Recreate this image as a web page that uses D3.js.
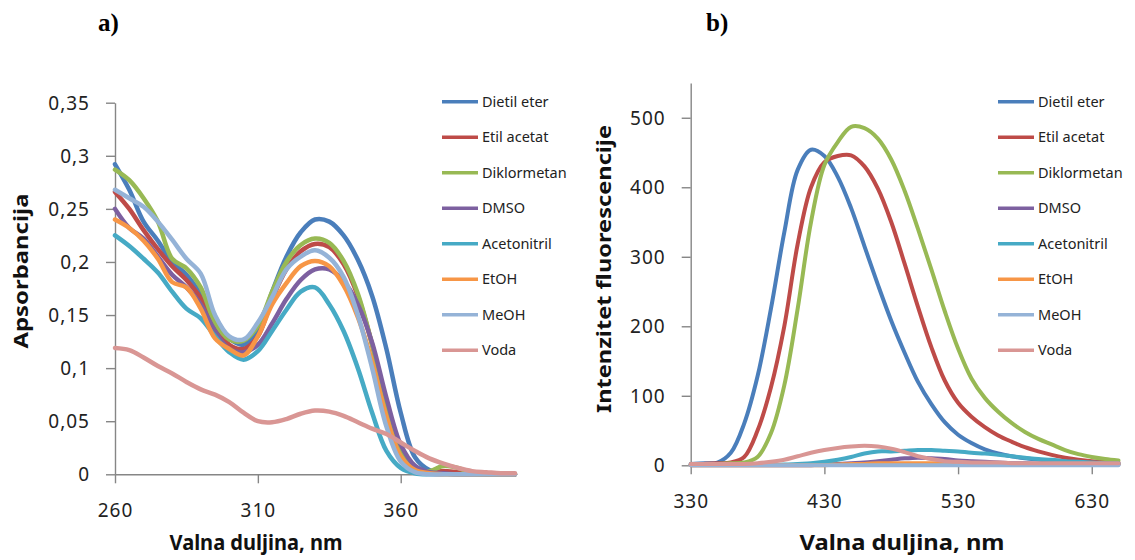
<!DOCTYPE html>
<html><head><meta charset="utf-8">
<script src="https://cdn.jsdelivr.net/npm/d3@7"></script>
<style>
html,body{margin:0;padding:0;background:#fff;}
svg{display:block;}
text{font-family:"Noto Sans",sans-serif;}
</style></head>
<body>
<svg id="c" width="1135" height="560"></svg>
<script>
// ---------- Chart a) absorbance ----------
const wlA = [260,265,270,275,280,285,290,295,300,305,310,315,320,325,330,335,340,345,350,355,360,365,370,375,380,385,390,395,400];
const absDietil = [.292,.268,.238,.220,.200,.188,.170,.148,.128,.122,.135,.172,.205,.228,.240,.238,.225,.202,.168,.118,.058,.016,.004,.001,0,0,0,0,0];
const absEtil = [.266,.250,.230,.212,.196,.183,.166,.140,.122,.118,.130,.165,.193,.210,.217,.214,.198,.168,.122,.064,.022,.006,.002,.003,.002,.001,0,0,0];
const absDiklor = [.287,.277,.260,.238,.203,.194,.176,.143,.127,.126,.140,.172,.200,.216,.222,.218,.201,.170,.122,.062,.020,.005,.003,.008,.006,.001,0,0,0];
const absDMSO = [.250,.232,.222,.205,.188,.176,.160,.135,.118,.115,.122,.142,.165,.183,.193,.193,.182,.160,.124,.072,.028,.008,.002,.001,0,0,0,0,0];
const absAceto = [.225,.215,.203,.190,.172,.156,.147,.130,.115,.108,.116,.135,.155,.172,.176,.160,.135,.100,.058,.022,.006,.001,0,0,0,0,0,0,0];
const absEtOH = [.240,.232,.220,.203,.181,.176,.156,.128,.118,.112,.130,.160,.180,.196,.201,.196,.178,.148,.106,.054,.017,.004,.001,0,0,0,0,0,0];
const absMeOH = [.268,.260,.252,.238,.221,.203,.189,.150,.130,.127,.143,.167,.193,.205,.211,.204,.186,.150,.100,.045,.012,.002,0,0,0,0,0,0,0];
const absVoda = [.119,.117,.110,.102,.095,.087,.080,.075,.068,.058,.050,.049,.052,.057,.060,.059,.055,.049,.043,.038,.030,.022,.015,.010,.006,.003,.002,.001,.001];
const yTicksA = [0,0.05,0.1,0.15,0.2,0.25,0.3,0.35];
const yTickLabelsA = ["0","0,05","0,1","0,15","0,2","0,25","0,3","0,35"];
const xTicksA = [260,310,360];

// ---------- Chart b) fluorescence ----------
const wlB = [330,340,350,360,370,380,390,400,410,420,430,440,450,460,470,480,490,500,510,520,530,540,550,560,570,580,590,600,610,620,630,640,650];
const flDietil = [2,3,4,18,60,128,225,335,425,454,445,415,370,315,260,208,162,120,88,62,44,32,23,17,13,10,8,7,6,5,4,3,2];
const flEtil = [1,2,3,4,12,50,112,200,318,400,436,445,446,430,398,350,290,228,170,122,90,70,55,43,34,26,20,15,11,8,6,5,4];
const flDiklor = [1,1,2,3,4,12,46,115,225,350,432,465,487,485,470,440,395,340,282,222,168,125,97,77,61,48,38,30,22,16,12,9,7];
const flDMSO = [0,0,0,0,0,0,0,0,0,0,1,2,3,4,6,8,10,11,10,9,7,6,5,4,3,3,2,2,1,1,1,1,1];
const flAceto = [1,1,1,1,1,1,1,1,2,3,5,8,12,17,20,20,21,22,22,21,20,18,17,15,13,11,9,8,6,5,4,3,3];
const flEtOH = [0,0,0,0,0,0,0,0,0,0,0,1,2,2,3,3,3,3,3,3,2,2,2,1,1,1,1,1,1,1,1,1,1];
const flMeOH = [0,0,0,0,0,0,0,0,0,0,0,0,0,0,0,0,0,0,0,0,0,0,0,0,0,0,0,0,0,0,0,0,0];
const flVoda = [2,2,2,2,2,3,5,8,13,18,22,25,27,28,27,24,19,13,9,6,5,4,4,4,3,3,3,3,3,3,3,3,3];
const yTicksB = [0,100,200,300,400,500];
const xTicksB = [330,430,530,630];

const seriesNames = ["Dietil eter","Etil acetat","Diklormetan","DMSO","Acetonitril","EtOH","MeOH","Voda"];
const colors = ["#4A7EBB","#BE4B48","#98B954","#7D60A0","#46AAC5","#F79646","#95B3D7","#D99694"];

const absSeries = [absDietil,absEtil,absDiklor,absDMSO,absAceto,absEtOH,absMeOH,absVoda];
const flSeries = [flDietil,flEtil,flDiklor,flDMSO,flAceto,flEtOH,flMeOH,flVoda];

const svg = d3.select("#c");
const axisColor = "#868686";
const tickFont = 19;

function drawChart(cfg){
  const x = d3.scaleLinear().domain(cfg.xDomain).range(cfg.xRange);
  const y = d3.scaleLinear().domain(cfg.yDomain).range(cfg.yRange);
  const g = svg.append("g");
  const xAxis = d3.axisBottom(x).tickValues(cfg.xTicks).tickSize(9).tickSizeOuter(0).tickFormat(d=>d);
  const gx = g.append("g").attr("transform",`translate(0,${cfg.yRange[0]})`).call(xAxis);
  const yAxis = d3.axisLeft(y).tickValues(cfg.yTicks).tickSize(9).tickSizeOuter(0).tickFormat(cfg.yFmt);
  const gy = g.append("g").attr("transform",`translate(${cfg.xRange[0]},0)`).call(yAxis);
  [gx,gy].forEach(a=>{
    a.select(".domain").attr("stroke",axisColor).attr("stroke-width",1.4);
    a.selectAll(".tick line").attr("stroke",axisColor).attr("stroke-width",1.4);
    a.selectAll(".tick text").attr("fill","#222").style("font-size",tickFont+"px").style("letter-spacing","1px").style("font-family","'Noto Sans',sans-serif");
  });
  gx.selectAll(".tick text").attr("dy",0).attr("y",cfg.xLabelDy);
  gy.selectAll(".tick text").attr("x",-25).attr("dy","0.35em");
  const line = d3.line().x((d,i)=>x(cfg.xs[i])).y(d=>y(Math.max(0,d))).curve(d3.curveCatmullRom.alpha(0.5));
  cfg.series.forEach((s,i)=>{
    g.append("path").datum(s).attr("fill","none").attr("stroke",colors[i])
      .attr("stroke-width",cfg.lw).attr("stroke-linejoin","round").attr("stroke-linecap","round").attr("d",line);
  });
  seriesNames.forEach((n,i)=>{
    const yy = cfg.legY + i*cfg.legStep;
    g.append("line").attr("x1",cfg.legX).attr("x2",cfg.legX+36).attr("y1",yy).attr("y2",yy)
      .attr("stroke",colors[i]).attr("stroke-width",3.5);
    g.append("text").attr("x",cfg.legX+40).attr("y",yy).attr("dy","0.35em")
      .style("font-size","14.5px").attr("fill","#222").text(n);
  });
  g.append("text").attr("x",cfg.xTitle[0]).attr("y",cfg.xTitle[1]).attr("text-anchor","middle")
    .style("font-size","21px").style("font-weight","bold").attr("fill","#111")
    .attr("textLength",cfg.xTitle[2]).attr("lengthAdjust","spacingAndGlyphs").text("Valna duljina, nm");
  g.append("text").attr("transform",`translate(${cfg.yTitle[0]},${cfg.yTitle[1]}) rotate(-90)`).attr("text-anchor","middle")
    .style("font-size","20px").style("font-weight","bold").attr("fill","#111")
    .attr("textLength",cfg.yTitle[2]).attr("lengthAdjust","spacingAndGlyphs").text(cfg.yTitleText);
  g.append("text").attr("x",cfg.label[0]).attr("y",cfg.label[1])
    .style("font-family","'Liberation Serif',serif").style("font-size","25px").style("font-weight","bold")
    .attr("fill","#000").text(cfg.labelText);
}

drawChart({
  xs: wlA, series: absSeries,
  xDomain:[260,400], xRange:[115,515],
  yDomain:[0,0.35], yRange:[474.3,102.7],
  xTicks:xTicksA, yTicks:yTicksA, yFmt:(d,i)=>yTickLabelsA[i],
  xLabelDy:43, lw:4.5,
  legX:442, legY:101.7, legStep:35.5,
  xTitle:[256,550,173], yTitle:[28,271,155], yTitleText:"Apsorbancija",
  label:[98,31], labelText:"a)"
});
drawChart({
  xs: wlB, series: flSeries,
  xDomain:[330,650], xRange:[690.7,1118.5],
  yDomain:[0,550], yRange:[465.3,83],
  xTicks:xTicksB, yTicks:yTicksB, yFmt:d=>d,
  xLabelDy:43, lw:4,
  legX:998, legY:101.7, legStep:35.5,
  xTitle:[902,550,205], yTitle:[611,269,288], yTitleText:"Intenzitet fluorescencije",
  label:[706,31], labelText:"b)"
});
</script>
</body></html>
